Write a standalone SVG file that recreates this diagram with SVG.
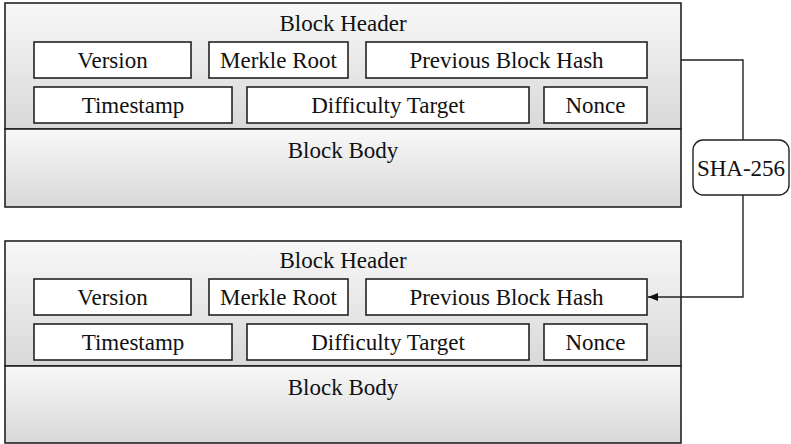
<svg xmlns="http://www.w3.org/2000/svg" width="791" height="444" viewBox="0 0 791 444">
  <defs>
    <linearGradient id="shade" x1="0" y1="0" x2="0" y2="1">
      <stop offset="0" stop-color="#f8f8f8"/>
      <stop offset="1" stop-color="#d8d8d8"/>
    </linearGradient>
    <marker id="arrow" viewBox="0 0 10 10" refX="10" refY="5" markerWidth="10" markerHeight="10" markerUnits="userSpaceOnUse" orient="auto">
      <path d="M0,1 L10,5 L0,9 Z" fill="#111"/>
    </marker>
  </defs>

  <!-- upper block -->
  <g id="block1">
    <rect x="5" y="3" width="676" height="126" fill="url(#shade)" stroke="#222" stroke-width="1.6"/>
    <rect x="5" y="129" width="676" height="78" fill="url(#shade)" stroke="#222" stroke-width="1.6"/>
    <text x="343" y="31" style="font-family:'Liberation Serif','Times New Roman',serif" font-family="Liberation Serif" font-size="23" text-anchor="middle" fill="#111">Block Header</text>
    <text x="343" y="158" style="font-family:'Liberation Serif','Times New Roman',serif" font-family="Liberation Serif" font-size="23" text-anchor="middle" fill="#111">Block Body</text>
    <g id="block1-version"><rect x="34" y="42" width="157" height="36" fill="#fff" stroke="#222" stroke-width="1.6"/><text x="112.5" y="68" style="font-family:'Liberation Serif','Times New Roman',serif" font-family="Liberation Serif" font-size="23" text-anchor="middle" fill="#111">Version</text></g>
    <g id="block1-merkle"><rect x="209" y="42" width="139" height="36" fill="#fff" stroke="#222" stroke-width="1.6"/><text x="278.5" y="68" style="font-family:'Liberation Serif','Times New Roman',serif" font-family="Liberation Serif" font-size="23" text-anchor="middle" fill="#111">Merkle Root</text></g>
    <g id="block1-prevhash"><rect x="366" y="42" width="281" height="36" fill="#fff" stroke="#222" stroke-width="1.6"/><text x="506.5" y="68" style="font-family:'Liberation Serif','Times New Roman',serif" font-family="Liberation Serif" font-size="23" text-anchor="middle" fill="#111">Previous Block Hash</text></g>
    <g id="block1-timestamp"><rect x="34" y="87" width="198" height="36" fill="#fff" stroke="#222" stroke-width="1.6"/><text x="133" y="113" style="font-family:'Liberation Serif','Times New Roman',serif" font-family="Liberation Serif" font-size="23" text-anchor="middle" fill="#111">Timestamp</text></g>
    <g id="block1-difficulty"><rect x="247" y="87" width="282" height="36" fill="#fff" stroke="#222" stroke-width="1.6"/><text x="388" y="113" style="font-family:'Liberation Serif','Times New Roman',serif" font-family="Liberation Serif" font-size="23" text-anchor="middle" fill="#111">Difficulty Target</text></g>
    <g id="block1-nonce"><rect x="544" y="87" width="103" height="36" fill="#fff" stroke="#222" stroke-width="1.6"/><text x="595.5" y="113" style="font-family:'Liberation Serif','Times New Roman',serif" font-family="Liberation Serif" font-size="23" text-anchor="middle" fill="#111">Nonce</text></g>
  </g>

  <!-- lower block -->
  <g id="block2">
    <rect x="5" y="241" width="676" height="125" fill="url(#shade)" stroke="#222" stroke-width="1.6"/>
    <rect x="5" y="366" width="676" height="77" fill="url(#shade)" stroke="#222" stroke-width="1.6"/>
    <text x="343" y="268" style="font-family:'Liberation Serif','Times New Roman',serif" font-family="Liberation Serif" font-size="23" text-anchor="middle" fill="#111">Block Header</text>
    <text x="343" y="395" style="font-family:'Liberation Serif','Times New Roman',serif" font-family="Liberation Serif" font-size="23" text-anchor="middle" fill="#111">Block Body</text>
    <g id="block2-version"><rect x="34" y="279" width="157" height="36" fill="#fff" stroke="#222" stroke-width="1.6"/><text x="112.5" y="305" style="font-family:'Liberation Serif','Times New Roman',serif" font-family="Liberation Serif" font-size="23" text-anchor="middle" fill="#111">Version</text></g>
    <g id="block2-merkle"><rect x="209" y="279" width="139" height="36" fill="#fff" stroke="#222" stroke-width="1.6"/><text x="278.5" y="305" style="font-family:'Liberation Serif','Times New Roman',serif" font-family="Liberation Serif" font-size="23" text-anchor="middle" fill="#111">Merkle Root</text></g>
    <g id="block2-prevhash"><rect x="366" y="279" width="281" height="36" fill="#fff" stroke="#222" stroke-width="1.6"/><text x="506.5" y="305" style="font-family:'Liberation Serif','Times New Roman',serif" font-family="Liberation Serif" font-size="23" text-anchor="middle" fill="#111">Previous Block Hash</text></g>
    <g id="block2-timestamp"><rect x="34" y="324" width="198" height="36" fill="#fff" stroke="#222" stroke-width="1.6"/><text x="133" y="350" style="font-family:'Liberation Serif','Times New Roman',serif" font-family="Liberation Serif" font-size="23" text-anchor="middle" fill="#111">Timestamp</text></g>
    <g id="block2-difficulty"><rect x="247" y="324" width="282" height="36" fill="#fff" stroke="#222" stroke-width="1.6"/><text x="388" y="350" style="font-family:'Liberation Serif','Times New Roman',serif" font-family="Liberation Serif" font-size="23" text-anchor="middle" fill="#111">Difficulty Target</text></g>
    <g id="block2-nonce"><rect x="544" y="324" width="103" height="36" fill="#fff" stroke="#222" stroke-width="1.6"/><text x="595.5" y="350" style="font-family:'Liberation Serif','Times New Roman',serif" font-family="Liberation Serif" font-size="23" text-anchor="middle" fill="#111">Nonce</text></g>
  </g>

  <!-- hash function -->
  <g id="sha256">
    <rect x="693" y="140" width="96" height="55" rx="10" ry="10" fill="#fff" stroke="#222" stroke-width="1.4"/>
    <text x="741" y="176" style="font-family:'Liberation Serif','Times New Roman',serif" font-family="Liberation Serif" font-size="23" text-anchor="middle" fill="#111">SHA-256</text>
  </g>

  <!-- links -->
  <g id="connectors" fill="none" stroke="#222" stroke-width="1.4">
    <path d="M681,60 H743 V140"/>
    <path d="M743,195 V297 H648" marker-end="url(#arrow)"/>
  </g>
</svg>
